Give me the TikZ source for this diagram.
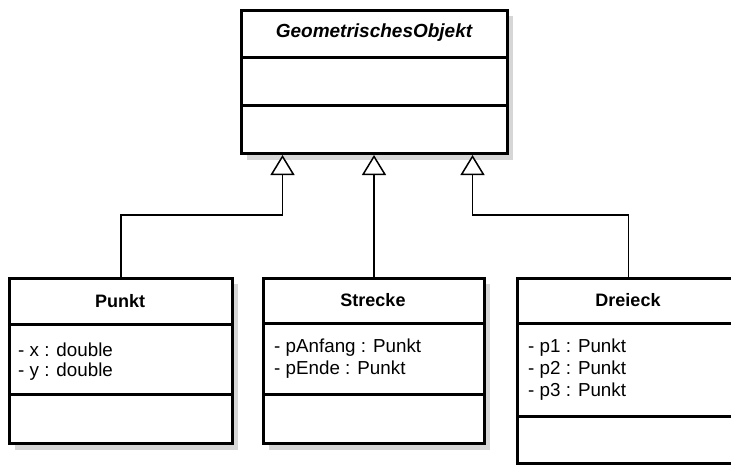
\documentclass[tikz,border=0pt]{standalone}
\usepackage{fontspec}
\setmainfont{Liberation Sans}
\usetikzlibrary{arrows.meta,calc}
\begin{document}
\begin{tikzpicture}[x=1pt,y=-1pt,
  umlbox/.style={draw=black,line width=3pt,fill=white,inner sep=0pt,anchor=north west},
  shadowbox/.style={fill=black!16,draw=none},
  divider/.style={line width=3pt},
  conn/.style={line width=1.5pt,-{Triangle[open,fill=white,length=20pt,width=24pt]}},
  ttl/.style={font=\fontsize{18}{21}\selectfont\bfseries},
  attr/.style={font=\fontsize{18.8}{22}\selectfont,anchor=west,inner sep=0pt}
]
\useasboundingbox (0,0) rectangle (731,464);
% shadows
\fill[shadowbox] (247,16) rectangle (513,160);
\fill[shadowbox] (15,284) rectangle (238,450);
\fill[shadowbox] (269,284) rectangle (490,450);
\fill[shadowbox] (523,284) rectangle (745,470);
% boxes
\node[umlbox,minimum width=266pt,minimum height=143pt] (geo) at (240,9) {};
\node[umlbox,minimum width=223pt,minimum height=165pt] (punkt) at (8,277) {};
\node[umlbox,minimum width=221pt,minimum height=165pt] (strecke) at (262,277) {};
\node[umlbox,minimum width=222pt,minimum height=185pt] (dreieck) at (516,277) {};
% dividers
\draw[divider] (geo.west |- 0,57) -- (geo.east |- 0,57);
\draw[divider] (geo.west |- 0,105) -- (geo.east |- 0,105);
\draw[divider] (punkt.west |- 0,324) -- (punkt.east |- 0,324);
\draw[divider] (punkt.west |- 0,394) -- (punkt.east |- 0,394);
\draw[divider] (strecke.west |- 0,323) -- (strecke.east |- 0,323);
\draw[divider] (strecke.west |- 0,394) -- (strecke.east |- 0,394);
\draw[divider] (dreieck.west |- 0,323) -- (dreieck.east |- 0,323);
\draw[divider] (dreieck.west |- 0,416) -- (dreieck.east |- 0,416);
% titles
\node[ttl,font=\fontsize{19}{21}\selectfont\bfseries\itshape] (geot) at (374,33) {GeometrischesObjekt};
\node[ttl] (punktt) at (120,301) {Punkt};
\node[ttl] (streckett) at (373,300) {Strecke};
\node[ttl] (dreieckt) at (628,300) {Dreieck};
% attributes
\node[attr] (px) at (18,350) {- x : double};
\node[attr] (py) at (18,372) {- y : double};
\node[attr] (sa) at (274,348) {- pAnfang : Punkt};
\node[attr] (se) at (274,370) {- pEnde : Punkt};
\node[attr] (d1) at (528,348) {- p1 : Punkt};
\node[attr] (d2) at (528,370) {- p2 : Punkt};
\node[attr] (d3) at (528,392) {- p3 : Punkt};
% connectors
\coordinate (a1) at ($(geo.south)+(-92,0)$);
\coordinate (a3) at ($(geo.south)+(98,0)$);
\draw[conn] (punkt.north) -- (punkt.north |- 0,215) -- (a1 |- 0,215) -- (a1);
\draw[conn] (strecke.north) -- (strecke.north |- geo.south);
\draw[conn] (dreieck.north) -- (dreieck.north |- 0,215) -- (a3 |- 0,215) -- (a3);
\end{tikzpicture}
\end{document}
